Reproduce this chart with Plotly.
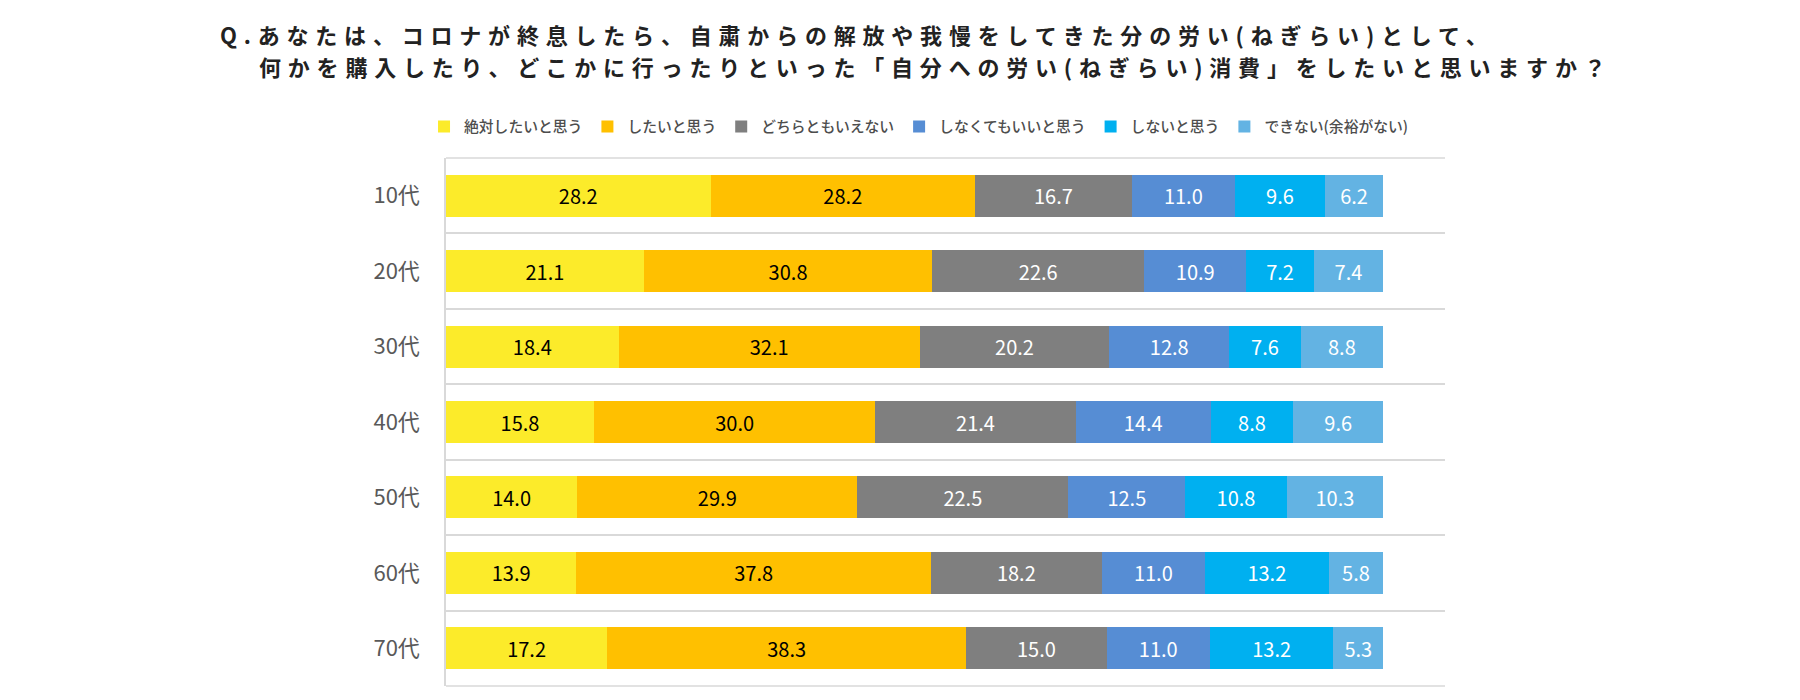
import plotly.graph_objects as go

categories = ["10代", "20代", "30代", "40代", "50代", "60代", "70代"]
series_names = ["絶対したいと思う", "したいと思う", "どちらともいえない",
                "しなくてもいいと思う", "しないと思う", "できない(余裕がない)"]
v_zettai = [28.2, 21.1, 18.4, 15.8, 14.0, 13.9, 17.2]
v_shitai = [28.2, 30.8, 32.1, 30.0, 29.9, 37.8, 38.3]
v_dochira = [16.7, 22.6, 20.2, 21.4, 22.5, 18.2, 15.0]
v_shinakutemo = [11.0, 10.9, 12.8, 14.4, 12.5, 11.0, 11.0]
v_shinai = [9.6, 7.2, 7.6, 8.8, 10.8, 13.2, 13.2]
v_dekinai = [6.2, 7.4, 8.8, 9.6, 10.3, 5.8, 5.3]
series_values = [v_zettai, v_shitai, v_dochira, v_shinakutemo, v_shinai, v_dekinai]

title_line1 = "Q.あなたは、コロナが終息したら、自粛からの解放や我慢をしてきた分の労い(ねぎらい)として、"
title_line2 = "何かを購入したり、どこかに行ったりといった「自分への労い(ねぎらい)消費」をしたいと思いますか？"

colors = ["#FCEB2A", "#FFC000", "#7F7F7F", "#568DD4", "#00B0F0", "#63B3E3"]
text_colors = ["#000000", "#000000", "#FFFFFF", "#FFFFFF", "#FFFFFF", "#FFFFFF"]

FONT = "Noto Sans CJK JP"
L, R, T, B = 446, 355, 158, 14
PW, PH = 1800 - L - R, 700 - T - B

fig = go.Figure()
for name, vals, c, tc in zip(series_names, series_values, colors, text_colors):
    fig.add_trace(go.Bar(
        y=categories, x=vals, name=name, orientation="h",
        marker=dict(color=c, line=dict(width=0)),
        text=[f"{v:.1f}" for v in vals],
        textposition="inside", insidetextanchor="middle", textangle=0,
        insidetextfont=dict(family=FONT, size=20, color=tc),
        constraintext="none",
        hoverinfo="skip",
    ))

fig.update_layout(
    barmode="stack", barnorm="percent", bargap=0.443,
    width=1800, height=700,
    margin=dict(l=L, r=R, t=T, b=B),
    paper_bgcolor="white", plot_bgcolor="white",
    font=dict(family=FONT),
    showlegend=True,
    legend=dict(
        orientation="h", x=-0.022, xanchor="left", y=1 + (T - 127) / PH, yanchor="middle",
        font=dict(family=FONT, size=14.8, color="#4D4D4D", weight=500),
        traceorder="normal", itemwidth=30,
    ),
    xaxis=dict(range=[0, 106.6], showgrid=False, zeroline=False,
               showticklabels=False, showline=False, fixedrange=True),
    yaxis=dict(categoryorder="array", categoryarray=categories,
               autorange="reversed", tickson="boundaries",
               showgrid=True, gridcolor="#D9D9D9", gridwidth=1.5,
               showline=True, linecolor="#D9D9D9", linewidth=1.5,
               ticks="", ticklabelstandoff=20,
               tickfont=dict(family=FONT, size=22, color="#595959")),
    shapes=[
        dict(type="line", xref="paper", yref="paper", x0=0, x1=1, y0=1, y1=1,
             line=dict(color="#D9D9D9", width=1.5), layer="below"),
        dict(type="line", xref="paper", yref="paper", x0=0, x1=1, y0=0, y1=0,
             line=dict(color="#D9D9D9", width=1.5), layer="below"),
    ],
    annotations=[
        dict(text="<b>" + title_line1 + "</b>", xref="paper", yref="paper",
             x=(218 - L) / PW, y=1 + (T - 34) / PH,
             xanchor="left", yanchor="middle", showarrow=False,
             font=dict(family=FONT, size=22, color="#222222")),
        dict(text="<b>" + title_line2 + "</b>", xref="paper", yref="paper",
             x=(257 - L) / PW, y=1 + (T - 66) / PH,
             xanchor="left", yanchor="middle", showarrow=False,
             font=dict(family=FONT, size=22, color="#222222")),
    ],
)

post = """
document.body.style.margin = '0';
var gd = document.getElementById('{plot_id}');
gd.querySelectorAll('.annotation-text').forEach(function(t){
  var b0 = t.getBBox();
  t.style.letterSpacing = '6.8px';
  var b1 = t.getBBox();
  var x = parseFloat(t.getAttribute('x')) || 0;
  t.setAttribute('x', x + (b0.x - b1.x));
});
"""

fig.write_html("out.html", post_script=post, config={"displayModeBar": False})
